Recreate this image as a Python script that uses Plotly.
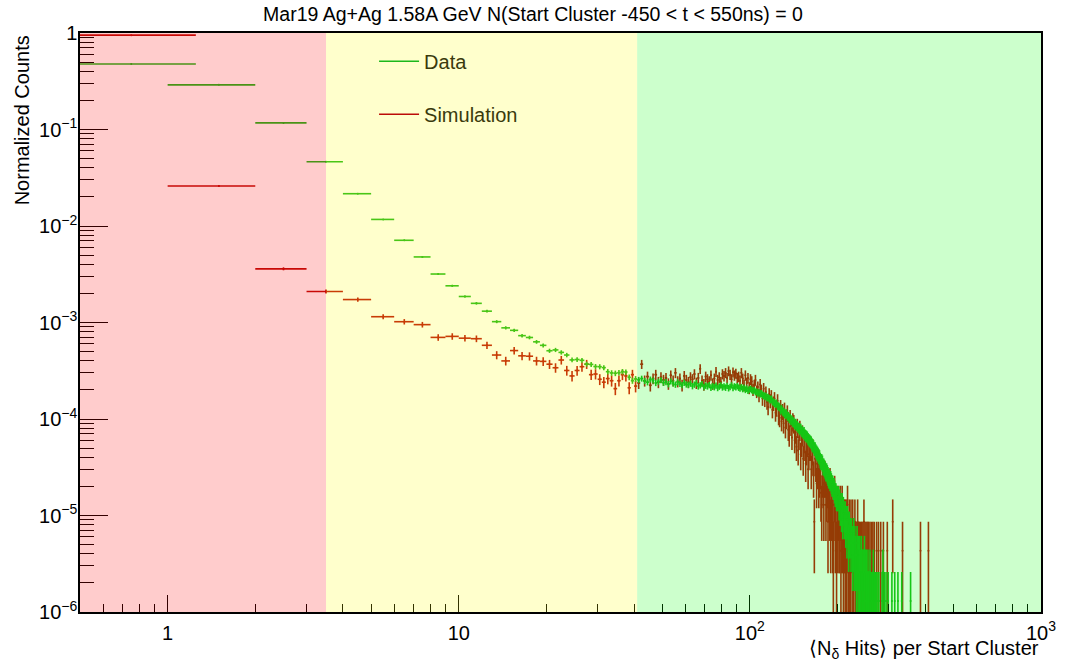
import math
import plotly.graph_objects as go

# ---------------- data ----------------
title_text = "Mar19 Ag+Ag 1.58A GeV N(Start Cluster -450 < t < 550ns) = 0"
x_title = "⟨N<sub>δ</sub> Hits⟩ per Start Cluster"
y_title = "Normalized Counts"
series_names = ["Data", "Simulation"]

x_tick_vals = [1, 10, 100, 1000]
x_tick_text = ["1", "10", "10<sup>2</sup>", "10<sup>3</sup>"]
y_tick_vals = [1e-6, 1e-5, 1e-4, 1e-3, 1e-2, 1e-1, 1]
y_tick_text = ["10<sup>\u22126</sup>", "10<sup>\u22125</sup>", "10<sup>\u22124</sup>",
               "10<sup>\u22123</sup>", "10<sup>\u22122</sup>", "10<sup>\u22121</sup>", "1"]

# bin 0 is [0.25, 1.25]; bin k (k>=1) is [k, k+1]
first_bin_low = 0.25
first_bin_high = 1.25

# normalisation (value of a single count) for each sample
data_norm = 1.3e-6
sim_norm = 4.3e-6

# counts per bin, bins 0..300
data_counts = [
    367700, 223100, 90000, 35690, 16620, 9000, 5470, 3677, 2446, 1846,
    1431, 1215, 1008, 785, 677, 638, 562, 538, 485, 446,
    392, 400, 377, 354, 315, 318, 312, 285, 283, 269,
    268, 262, 238, 231, 229, 232, 238, 236, 208, 192,
    200,
    196, 202, 191, 185, 198, 193, 182, 188, 194, 183,
    186, 177, 189, 181, 175, 185, 178, 173, 183, 176,
    174, 179, 169, 175, 181, 168, 172, 177, 166, 171,
    168, 173, 163, 169, 165, 171, 162, 167, 172, 164,
    168, 163, 170, 161, 166, 172, 162, 168, 165, 169,
    163, 160, 165, 158, 162, 155, 159, 152, 156, 158,
    154, 151, 153, 147, 148, 143, 145, 140, 142, 137,
    135, 132, 133, 128, 129, 125, 122, 124, 118, 115,
    113, 110, 112, 106, 104, 102, 95, 98, 93, 91,
    89, 86, 88, 83, 82, 79, 78, 75, 75, 72,
    71, 68, 69, 66, 65, 63, 62, 60, 61, 58,
    57, 55, 56, 53, 52, 51, 50, 48, 47, 46,
    45, 44, 42, 41, 40, 38, 38, 36, 35, 34,
    33, 32, 31, 29, 28, 28, 27, 25, 25, 24,
    23, 22, 22, 21, 20, 19, 19, 18, 18, 17,
    16, 16, 15, 15, 14, 13, 13, 12, 12, 12,
    12, 10, 11, 9, 10, 8, 10, 7, 9, 8,
    7, 8, 6, 7, 5, 7, 6, 4, 6, 5,
    5, 4, 5, 4, 3, 4, 5, 3, 4, 3,
    3, 2, 4, 3, 2, 3, 2, 3, 2, 1,
    3, 2, 1, 2, 2, 1, 3, 1, 2, 1,
    2, 0, 1, 2, 1, 1, 0, 2, 1, 1,
    0, 1, 1, 0, 2, 1, 0, 1, 0, 1,
    0, 1, 0, 0, 1, 0, 1, 0, 0, 0,
    0, 0, 0, 1, 0, 2, 0, 0, 1, 0,
    0, 0, 1, 0, 0, 0, 0, 1, 0, 0,
]
data_tail_bins = [307, 314, 322, 332, 356]
data_tail_counts = [1, 1, 1, 1, 1]

sim_counts = [
    220900, 6047, 837, 488, 402, 267, 237, 221, 163, 167,
    160, 158, 135, 107, 93, 119, 105, 104, 93, 92,
    86, 79, 95, 74, 65, 74, 81, 86, 67, 68,
    60, 56, 61, 58, 48, 58, 67, 65, 49, 67,
    51,
    55, 86, 58, 64, 52, 61, 67, 56, 63, 59,
    62, 54, 66, 58, 70, 57, 61, 52, 65, 59,
    56, 63, 60, 68, 55, 62, 77, 58, 53, 64,
    60, 57, 66, 54, 61, 72, 59, 63, 56, 68,
    65, 70, 62, 73, 67, 60, 71, 66, 69, 62,
    64, 58, 70, 61, 52, 66, 55, 62, 49, 60,
    57, 47, 52, 59, 45, 50, 41, 53, 46, 38,
    48, 37, 44, 35, 31, 42, 36, 40, 29, 34,
    38, 27, 30, 36, 25, 24, 31, 22, 28, 21,
    29, 19, 23, 27, 18, 16, 24, 20, 15, 22,
    21, 14, 17, 12, 19, 11, 15, 18, 10, 13,
    16, 9, 12, 14, 8, 11, 13, 7, 10, 12,
    12, 7, 9, 11, 6, 2, 9, 8, 5, 7,
    8, 5, 6, 7, 4, 3, 6, 5, 3, 6,
    6, 3, 4, 5, 2, 4, 3, 5, 2, 3,
    4, 2, 1, 3, 4, 2, 3, 1, 3, 2,
    3, 2, 2, 3, 1, 2, 3, 2, 1, 2,
    2, 1, 2, 1, 2, 3, 1, 1, 2, 1,
    1, 2, 0, 1, 2, 1, 1, 0, 2, 1,
    1, 0, 1, 2, 0, 1, 1, 0, 1, 0,
    1, 1, 0, 1, 0, 2, 0, 1, 0, 1,
    0, 1, 0, 1, 1, 0, 0, 1, 0, 0,
    1, 0, 0, 1, 0, 0, 1, 0, 0, 0,
    0, 1, 0, 0, 0, 1, 0, 0, 0, 0,
    1, 0, 0, 0, 0, 0, 1, 0, 0, 0,
    0, 0, 0, 0, 0, 1, 0, 0, 0, 0,
]
sim_tail_bins = [309, 334, 385, 410]
sim_tail_counts = [2, 1, 1, 1]

# shaded regions along x
region_edges = [0.5, 3.5, 41, 1000]
region_colors = ["rgba(255,0,0,0.2)", "rgba(255,255,0,0.2)", "rgba(0,255,0,0.2)"]

x_range = [0.5, 1000]
y_range = [1e-6, 1]

data_color = "#1cb81c"
sim_color = "#bb0c08"
font_family = "Liberation Sans, Arial, Helvetica, sans-serif"


# ---------------- helpers ----------------
def bin_edges(k):
    if k == 0:
        return first_bin_low, first_bin_high
    return float(k), float(k + 1)


def build(counts, tail_bins, tail_counts, norm):
    bins = list(range(len(counts))) + list(tail_bins)
    cnts = list(counts) + list(tail_counts)
    xs, hw, ys, es = [], [], [], []
    for b, c in zip(bins, cnts):
        if c <= 0:
            continue
        lo, hi = bin_edges(b)
        xs.append(0.5 * (lo + hi))
        hw.append(0.5 * (hi - lo))
        ys.append(c * norm)
        es.append(math.sqrt(c) * norm)
    return xs, hw, ys, es


fig = go.Figure()

for name, counts, tb, tc, norm, color in [
    ("Simulation", sim_counts, sim_tail_bins, sim_tail_counts, sim_norm, sim_color),
    ("Data", data_counts, data_tail_bins, data_tail_counts, data_norm, data_color),
]:
    xs, hw, ys, es = build(counts, tb, tc, norm)
    fig.add_trace(go.Scatter(
        x=xs, y=ys, mode="markers", name=name, showlegend=False,
        marker=dict(size=2, color=color),
        error_x=dict(type="data", array=hw, symmetric=True, width=0,
                     thickness=1.6, color=color),
        error_y=dict(type="data", array=es, symmetric=True, width=0,
                     thickness=1.6, color=color),
        hoverinfo="skip",
    ))

# legend entries (line style as in the reference)
for i, (name, color) in enumerate(zip(series_names, [data_color, sim_color])):
    fig.add_trace(go.Scatter(
        x=[None], y=[None], mode="lines", name=name,
        line=dict(color=color, width=1.6), legendgroup=f"g{i}",
    ))

# translucent region overlays drawn on top (as in the ROOT canvas)
for i, col in enumerate(region_colors):
    fig.add_shape(type="rect", xref="x", yref="y",
                  x0=region_edges[i], x1=region_edges[i + 1],
                  y0=y_range[0], y1=y_range[1],
                  fillcolor=col, line=dict(width=0), layer="above")

fig.update_layout(
    width=1066, height=668,
    margin=dict(l=80, r=25, t=33, b=56, autoexpand=False),
    paper_bgcolor="white", plot_bgcolor="white",
    font=dict(family=font_family, size=20, color="black"),
    title=dict(text=title_text, x=0.5, xref="container", xanchor="center",
               y=1 - 14 / 668, yref="container", yanchor="middle",
               font=dict(family=font_family, size=19.5, color="black")),
    legend=dict(x=0.306, y=0.985, xanchor="left", yanchor="top",
                bgcolor="rgba(0,0,0,0)", tracegroupgap=24, itemwidth=40,
                font=dict(family=font_family, size=20, color="#3a3a0c")),
    showlegend=True,
)

fig.update_xaxes(
    type="log", range=[math.log10(x_range[0]), math.log10(x_range[1])],
    automargin=False,
    showline=True, mirror=True, linecolor="black", linewidth=1.5,
    showgrid=False, zeroline=False,
    ticks="inside", ticklen=17, tickcolor="black", tickwidth=1.2,
    tickmode="array", tickvals=x_tick_vals, ticktext=x_tick_text,
    ticklabelstandoff=2,
    minor=dict(ticks="inside", ticklen=8, tickcolor="black", tickwidth=1.2,
               tickmode="linear", dtick="D1", showgrid=False),
    tickfont=dict(size=20, family=font_family),
)
fig.update_yaxes(
    type="log", range=[math.log10(y_range[0]), math.log10(y_range[1])],
    automargin=False,
    showline=True, mirror=True, linecolor="black", linewidth=1.5,
    showgrid=False, zeroline=False,
    ticks="inside", ticklen=28, tickcolor="black", tickwidth=1.2,
    tickmode="array", tickvals=y_tick_vals, ticktext=y_tick_text,
    ticklabelstandoff=-3,
    minor=dict(ticks="inside", ticklen=14, tickcolor="black", tickwidth=1.2,
               tickmode="linear", dtick="D1", showgrid=False),
    tickfont=dict(size=20, family=font_family),
)

fig.add_annotation(text=y_title, textangle=-90, xref="paper", yref="paper",
                   x=-0.06, y=1.0, xanchor="center", yanchor="top",
                   showarrow=False, font=dict(size=20, family=font_family))
fig.add_annotation(text=x_title, xref="paper", yref="paper",
                   x=1.0, y=-0.065, xanchor="right", yanchor="middle",
                   showarrow=False, font=dict(size=20, family=font_family))

fig.write_html("out.html")
